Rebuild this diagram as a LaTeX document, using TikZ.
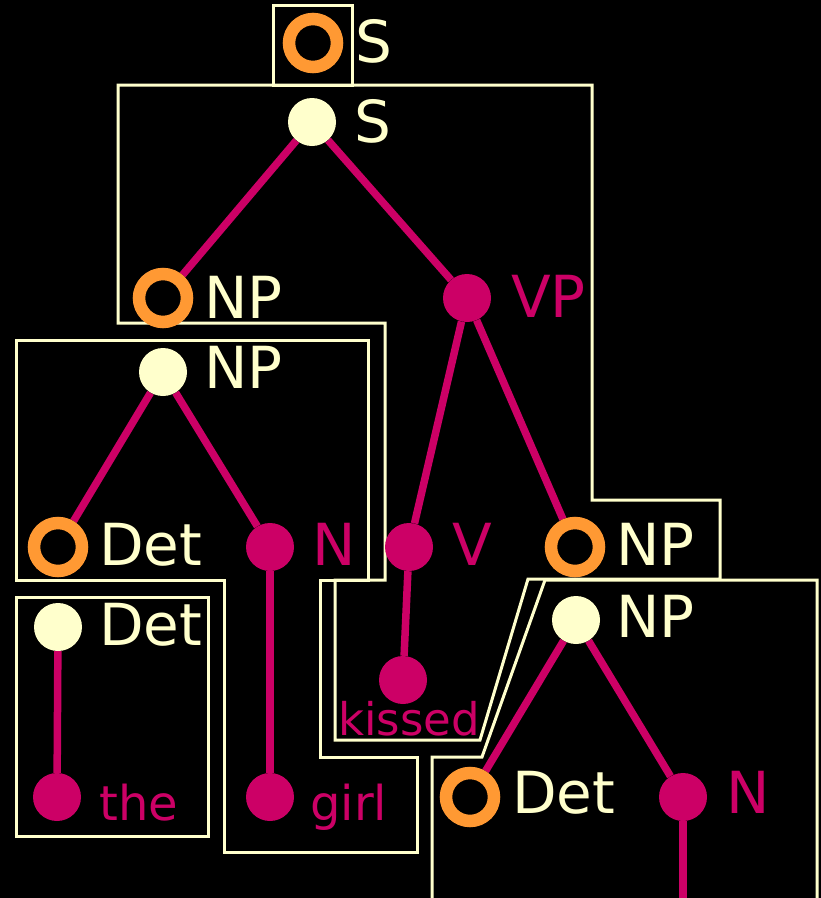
\documentclass[tikz,border=0pt]{standalone}
\usepackage{fontspec}
\setmainfont{DejaVu Sans}
\usetikzlibrary{positioning}

\definecolor{treeorange}{HTML}{FF9933}
\definecolor{treecream}{HTML}{FFFFCC}
\definecolor{treepink}{HTML}{CC0066}

\pgfdeclarelayer{bg}
\pgfdeclarelayer{mid}
\pgfsetlayers{bg,mid,main}

\tikzset{
    ring/.style={circle, draw=treeorange, line width=12.5pt, fill=black, minimum size=48pt, inner sep=0pt},
    dot/.style={circle, fill=treecream, minimum size=48pt, inner sep=0pt},
    pinkdot/.style={circle, fill=treepink, minimum size=48pt, inner sep=0pt},
    frame/.style={draw=treecream, line width=3pt},
    branch/.style={draw=treepink, line width=7.5pt},
    cat/.style={font=\fontsize{58}{60}\selectfont, inner sep=0pt, anchor=base west, text=treecream},
    catpink/.style={cat, text=treepink},
    word/.style={font=\fontsize{48}{50}\selectfont, inner sep=0pt, anchor=base west, text=treepink},
}

\begin{document}
\begin{tikzpicture}[x=1pt, y=-1pt]
    \useasboundingbox (0,0) rectangle (821,898);

    \begin{pgfonlayer}{bg}
        % Black page
        \fill[black] (0,0) rectangle (821,898);

        % Fragment frames
        \draw[frame] (273,5) rectangle (352,85);
        \draw[frame] (118,85) -- (592,85) -- (592,500) -- (720,500) -- (720,579)
            -- (528,579) -- (480,740) -- (335,740) -- (335,580) -- (385,580)
            -- (385,323) -- (118,323) -- cycle;
        \draw[frame] (16,340) -- (368,340) -- (368,580) -- (320,580) -- (320,757)
            -- (417,757) -- (417,852) -- (224,852) -- (224,580) -- (16,580) -- cycle;
        \draw[frame] (16,597) rectangle (208,836);
        \draw[frame] (432,905) -- (432,757) -- (482,757) -- (545,580) -- (817,580) -- (817,905);
    \end{pgfonlayer}

    % Tree nodes
    \node[ring] (sRoot) at (313,43) {};
    \node[dot] (s) at (312,122) {};
    \node[ring] (npSubj) at (163,298) {};
    \node[pinkdot] (vp) at (467,298) {};
    \node[dot] (npSubjRoot) at (163,372) {};
    \node[ring] (detSubj) at (58,547) {};
    \node[pinkdot] (nSubj) at (270,547) {};
    \node[pinkdot] (v) at (409,547) {};
    \node[ring] (npObj) at (575,547) {};
    \node[pinkdot] (kissed) at (403,680) {};
    \node[dot] (detRoot) at (58,627) {};
    \node[pinkdot] (the) at (57,797) {};
    \node[pinkdot] (girl) at (270,797) {};
    \node[dot] (npObjRoot) at (576,620) {};
    \node[ring] (detObj) at (470,797) {};
    \node[pinkdot] (nObj) at (683,797) {};
    \coordinate (nObjEnd) at (683,910);

    % Labels
    \node[cat] (sRootLbl) at (355,62) {S};
    \node[cat] (sLbl) at (354,142) {S};
    \node[cat] (npSubjLbl) at (204,318) {NP};
    \node[catpink] (vpLbl) at (511,317) {VP};
    \node[cat] (npSubjRootLbl) at (204,388) {NP};
    \node[cat] (detSubjLbl) at (99,565) {Det};
    \node[catpink] (nSubjLbl) at (312,565) {N};
    \node[catpink] (vLbl) at (452,565) {V};
    \node[cat] (npObjLbl) at (616,565) {NP};
    \node[cat] (npObjRootLbl) at (616,637) {NP};
    \node[cat] (detRootLbl) at (99,645) {Det};
    \node[cat] (detObjLbl) at (512,813) {Det};
    \node[catpink] (nObjLbl) at (726,813) {N};
    \node[word, font=\fontsize{45}{50}\selectfont] (kissedLbl) at (338,735) {kissed};
    \node[word] (theLbl) at (99,820) {the};
    \node[word] (girlLbl) at (310,820) {girl};

    % Branches
    \begin{pgfonlayer}{mid}
        \draw[branch] (s) -- (npSubj);
        \draw[branch] (s) -- (vp);
        \draw[branch] (vp) -- (v);
        \draw[branch] (vp) -- (npObj);
        \draw[branch] (v) -- (kissed);
        \draw[branch] (npSubjRoot) -- (detSubj);
        \draw[branch] (npSubjRoot) -- (nSubj);
        \draw[branch] (nSubj) -- (girl);
        \draw[branch] (detRoot) -- (the);
        \draw[branch] (npObjRoot) -- (detObj);
        \draw[branch] (npObjRoot) -- (nObj);
        \draw[branch] (nObj) -- (nObjEnd);
    \end{pgfonlayer}
\end{tikzpicture}
\end{document}
